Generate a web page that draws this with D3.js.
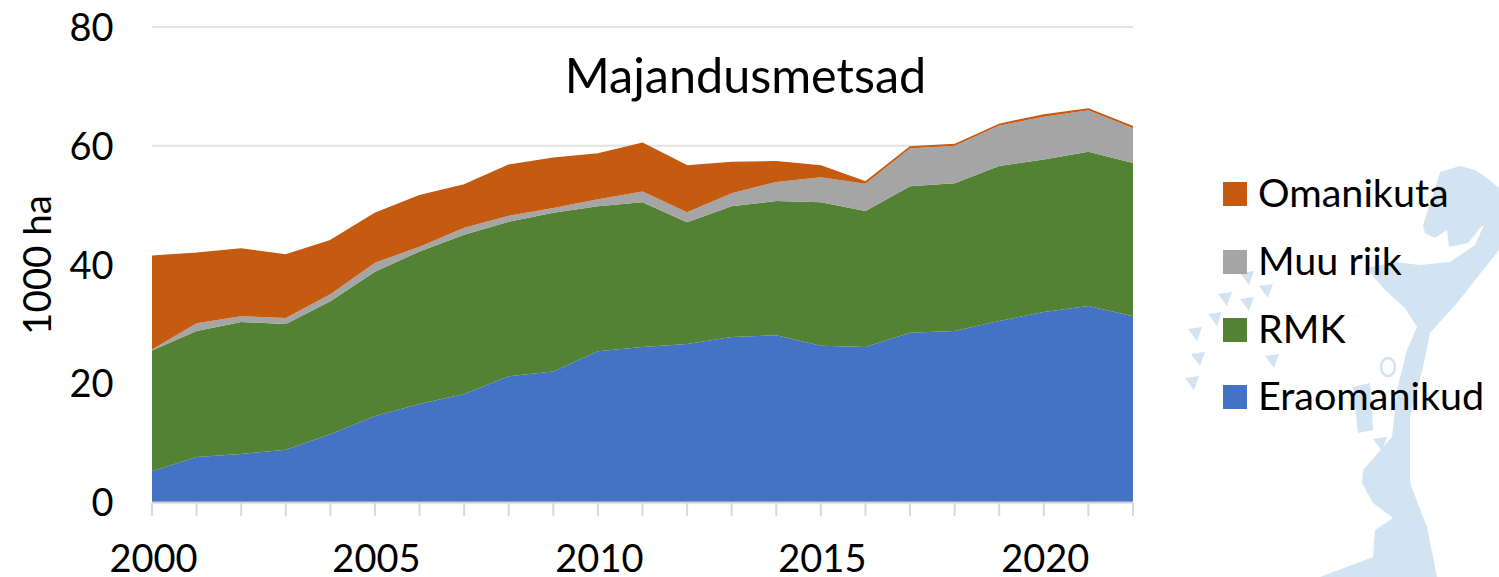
<!DOCTYPE html>
<html><head><meta charset="utf-8">
<script src="https://cdn.jsdelivr.net/npm/d3@7/dist/d3.min.js"></script>
<style>html,body{margin:0;padding:0;background:#fff}svg{display:block}text{font-family:Lato,sans-serif;fill:#000}</style>
</head><body><svg id="c" width="1499" height="577"></svg>
<script>
const years = d3.range(2000, 2023);
const seriesNames = ["Eraomanikud", "RMK", "Muu riik", "Omanikuta"];
const colors = ["#4472c4", "#548235", "#a5a5a5", "#c55a11"];
const eraomanikud = [5.2,7.6,8.1,8.8,11.4,14.5,16.5,18.2,21.2,22,25.4,26.1,26.6,27.8,28.1,26.3,26.1,28.5,28.8,30.5,32,33,31.3];
const rmk = [20.3,21.2,22.2,21.2,22.4,24.3,25.7,26.8,26,26.7,24.4,24.4,20.5,22,22.6,24.2,22.9,24.7,24.9,26.1,25.7,26,25.8];
const muuRiik = [0.2,1.3,1,1,1.2,1.5,0.8,1.2,1,0.8,1.2,1.8,1.7,2.2,3.2,4.2,4.6,6.4,6.3,6.8,7.2,7,5.9];
const omanikuta = [15.7,11.8,11.3,10.6,9,8.3,8.6,7.2,8.5,8.4,7.6,8.1,7.8,5.2,3.4,1.9,0.3,0.2,0.2,0.2,0.3,0.2,0.2];
const yTicks = [0,20,40,60,80];
const xLabels = [2000,2005,2010,2015,2020];

const svg = d3.select("#c");
// decorative map in the background
const bg = svg.append("g").attr("fill","#d2e4f2");
bg.append("path").attr("d","M1499 188 L1487 178 L1475 170 L1460 166 L1440 172 L1433 195 L1423 225 L1425 233 L1435 238 L1447 230 L1449 247 L1468 243 L1480 228 L1484 225 L1475 245 L1450 262 L1420 265 L1395 262 L1366 268 L1385 290 L1405 308 L1417 327 L1407 350 L1397 390 L1392 437 L1363 470 L1362 483 L1373 503 L1393 518 L1375 530 L1373 557 L1320 577 L1437 577 L1427 527 L1410 483 L1410 417 L1423 367 L1430 333 L1457 303 L1499 250 Z");
bg.append("path").attr("d","M1353 387 L1370 383 L1373 430 L1358 433 Z");
bg.append("ellipse").attr("cx",1388).attr("cy",367).attr("rx",7).attr("ry",9).attr("fill","none").attr("stroke","#d2e4f2").attr("stroke-width",2.5);
[[1195,333],[1198,358],[1192,382],[1215,318],[1225,298],[1247,303],[1266,290],[1247,277],[1272,360],[1380,443]].forEach(p=>{
  bg.append("path").attr("d",`M${p[0]-7} ${p[1]-4} L${p[0]+7} ${p[1]-6} L${p[0]+2} ${p[1]+8} Z`);
});

const x = d3.scaleLinear().domain([2000,2022]).range([152,1133]);
const y = d3.scaleLinear().domain([0,80]).range([502,27]);

const g = svg.append("g");
g.selectAll("line.g").data(yTicks.slice(1)).join("line")
 .attr("x1",152).attr("x2",1133).attr("y1",d=>y(d)).attr("y2",d=>y(d))
 .attr("stroke","#e2e2e2").attr("stroke-width",2);

const rows = years.map((yr,i)=>({year:yr,"Eraomanikud":eraomanikud[i],"RMK":rmk[i],"Muu riik":muuRiik[i],"Omanikuta":omanikuta[i]}));
const stack = d3.stack().keys(seriesNames)(rows);
const area = d3.area().x(d=>x(d.data.year)).y0(d=>y(d[0])).y1(d=>y(d[1]));
g.selectAll("path.a").data(stack).join("path").attr("class","a")
 .attr("d",area).attr("fill",(d,i)=>colors[i]);
// thin top edge so the near-zero band stays visible
g.append("path").datum(stack[3]).attr("fill","none").attr("stroke",colors[3]).attr("stroke-width",1.5)
 .attr("d",d3.line().x(d=>x(d.data.year)).y(d=>y(d[1])));

// axis
g.append("line").attr("x1",152).attr("x2",1133).attr("y1",y(0)+0.5).attr("y2",y(0)+0.5).attr("stroke","#d0d0d0").attr("stroke-width",2);
g.selectAll("line.t").data(years).join("line").attr("class","t")
 .attr("x1",d=>x(d)).attr("x2",d=>x(d)).attr("y1",y(0)+1).attr("y2",y(0)+14)
 .attr("stroke","#d9d9d9").attr("stroke-width",2);
g.selectAll("text.xl").data(xLabels).join("text").attr("class","xl")
 .attr("x",d=>x(d)+1.5).attr("y",572).attr("text-anchor","middle").attr("font-size",38).text(d=>d);
g.selectAll("text.yl").data(yTicks).join("text").attr("class","yl")
 .attr("x",113.5).attr("y",d=>y(d)+14).attr("text-anchor","end").attr("font-size",38).text(d=>d);
svg.append("text").attr("transform","translate(51,265) rotate(-90)").attr("text-anchor","middle").attr("font-size",38.5).text("1000 ha");
svg.append("text").attr("x",745.5).attr("y",93).attr("text-anchor","middle").attr("font-size",48.5).text("Majandusmetsad");

// legend
const legendY = [194,262,330,397];
const order = [3,2,1,0];
order.forEach((s,i)=>{
  svg.append("rect").attr("x",1223).attr("y",legendY[i]-12).attr("width",24).attr("height",24).attr("fill",colors[s]);
  svg.append("text").attr("x",1258).attr("y",legendY[i]+13).attr("font-size",39.5).text(seriesNames[s]);
});
</script></body></html>
